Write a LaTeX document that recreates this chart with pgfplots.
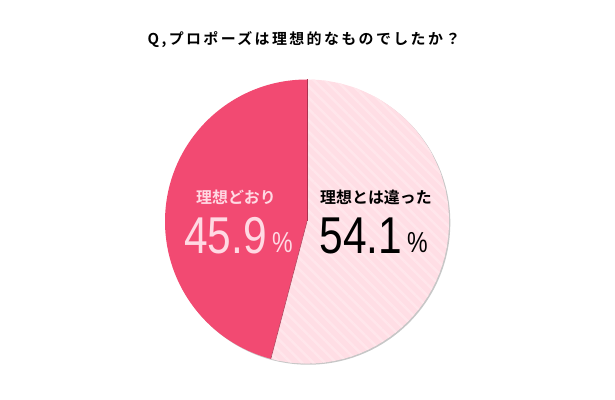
\documentclass[border=0pt]{standalone}
\usepackage{fontspec}
\setmainfont{Liberation Sans}
\newfontfamily\cjk{Noto Sans CJK JP}
\newfontfamily\cjkb{Noto Sans CJK JP Bold}
\newfontfamily\numf[FakeStretch=0.82]{Liberation Sans}
\newfontfamily\pctf[FakeStretch=0.8]{Liberation Sans}
\usepackage{pgfplots}
\usepackage{pgfplotstable}
\pgfplotsset{compat=1.18}
\usetikzlibrary{patterns.meta}
\definecolor{slicea}{HTML}{F24A72}
\definecolor{sliceb}{HTML}{FFDEE5}
\definecolor{stripe}{HTML}{FFE6EB}
\definecolor{lbl}{HTML}{FFD9E3}
\pgfplotstableread{
label value
ideal 45.9
different 54.1
}\piedata
\begin{document}
\begin{tikzpicture}
\pgfplotstablegetelem{0}{value}\of\piedata \let\va\pgfplotsretval
\pgfplotstablegetelem{1}{value}\of\piedata \let\vb\pgfplotsretval
\begin{axis}[
  scale only axis, width=615bp, height=400bp,
  xmin=0, xmax=615, ymin=0, ymax=400,
  hide axis, clip=false,
]
\path (axis cs:0,0) rectangle (axis cs:615,400);
% shadow
\fill[black!22] (axis cs:308.3,177.3) circle[radius=142bp];
% slice A (45.9%) counterclockwise from top
\fill[slicea] (axis cs:307,178.5) -- ++(90:142bp) arc[start angle=90, end angle={90+3.6*\va}, radius=142bp] -- cycle;
% slice B
\fill[sliceb] (axis cs:307,178.5) -- ++({90+3.6*\va}:142bp) arc[start angle={90+3.6*\va}, end angle=450, radius=142bp] -- cycle;
\fill[pattern={Lines[angle=-45,distance=8bp,line width=2.5bp]}, pattern color=stripe] (axis cs:307,178.5) -- ++({90+3.6*\va}:142bp) arc[start angle={90+3.6*\va}, end angle=450, radius=142bp] -- cycle;
\draw[slicea!70!black, line width=0.5bp] (axis cs:307,178.5) -- ++(90:142bp);
\draw[slicea!70!black, line width=0.5bp] (axis cs:307,178.5) -- ++({90+3.6*\va}:142bp);
% title
\node[font=\cjkb\fontsize{15}{18}\selectfont\addfontfeatures{LetterSpace=16}] at (axis cs:304,360) {Q,プロポーズは理想的なものでしたか？};
% labels
\node[text=lbl, font=\cjkb\fontsize{16}{18}\selectfont] at (axis cs:236,203) {理想どおり};
\node[text=lbl, anchor=base, inner sep=0pt, font=\numf\fontsize{52}{52}\selectfont] at (axis cs:225.5,147) {45.9};
\node[text=lbl, anchor=base, inner sep=0pt, font=\pctf\fontsize{29}{29}\selectfont] at (axis cs:282.5,148) {\%};
\node[text=black, font=\cjkb\fontsize{16}{18}\selectfont] at (axis cs:376,203) {理想とは違った};
\node[text=black, anchor=base, inner sep=0pt, font=\numf\fontsize{52}{52}\selectfont] at (axis cs:361,147) {54.1};
\node[text=black, anchor=base, inner sep=0pt, font=\pctf\fontsize{29}{29}\selectfont] at (axis cs:417.5,148) {\%};
\end{axis}
\end{tikzpicture}
\end{document}
